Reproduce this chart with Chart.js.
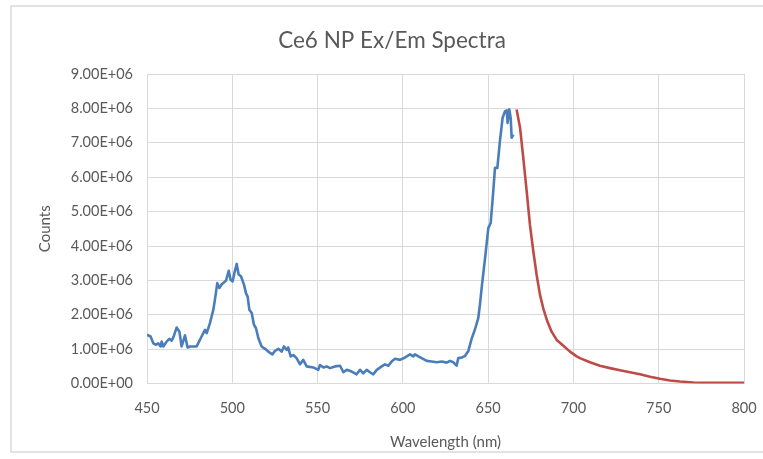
<!DOCTYPE html>
<html>
<head>
<meta charset="utf-8">
<script src="https://cdn.jsdelivr.net/npm/chart.js@4.4.1/dist/chart.umd.min.js"></script>
<style>
  html, body { margin: 0; padding: 0; background: #fff; }
  #wrap { position: relative; width: 763px; height: 459px; }
</style>
</head>
<body>
<div id="wrap"><canvas id="spectra" width="763" height="459"></canvas></div>
<script>
/* Ce6 NP Ex/Em Spectra — excitation (blue) and emission (red) */

// excitation scan: wavelength (nm) / counts (millions)
const excWl = [
  450, 452.1, 453.7, 455.3, 456.6, 458, 458.6, 459.6, 461.5, 463.1, 464.5, 465.5, 467.4, 469, 470.3,
  472.3, 473.8, 475.2, 479.1, 482, 484, 485, 486.9, 488.9, 490, 491.2, 492.4, 493.8, 496.3, 497.9,
  499, 500.2, 501.2, 502.6, 503.7, 505.1, 506.9, 508, 509, 510, 511.4, 512.7, 513.9, 515.3, 517.2,
  519.2, 521.1, 523.5, 525, 527, 528.9, 530.3, 531.9, 532.8, 534.2, 535.8, 537.7, 539.7, 541.6,
  543.6, 547.5, 550.4, 551.4, 553.4, 555.3, 557.3, 560.2, 563.2, 565.1, 567.1, 570, 572.9, 574.9,
  576.8, 578.8, 580.7, 582.7, 584.7, 587.6, 589.5, 591.5, 593.4, 595.4, 598.3, 601.3, 604.2, 606.1,
  607.1, 609.1, 611, 614, 616.9, 619.8, 622.8, 625.7, 627.6, 629.6, 631.5, 632.5, 634.5, 636.4,
  638.4, 640.3, 642.3, 644.2, 645.2, 646.2, 648.2, 650.1, 651.5, 653, 654, 655.4, 656.9, 658.5,
  659.9, 660.9, 661.4, 662.4, 663.2, 663.8, 664.8
];
const excCountsM = [
  1.42, 1.37, 1.17, 1.13, 1.17, 1.08, 1.22, 1.08, 1.22, 1.30, 1.25, 1.35, 1.63, 1.51, 1.08,
  1.40, 1.05, 1.08, 1.08, 1.37, 1.56, 1.47, 1.76, 2.15, 2.50, 2.92, 2.78, 2.89, 2.99, 3.28,
  3.02, 2.97, 3.21, 3.48, 3.17, 3.12, 2.87, 2.63, 2.53, 2.15, 2.05, 1.71, 1.61, 1.32, 1.08,
  1.01, 0.93, 0.85, 0.95, 1.01, 0.93, 1.08, 0.98, 1.05, 0.79, 0.83, 0.74, 0.56, 0.69,
  0.50, 0.47, 0.40, 0.54, 0.47, 0.50, 0.45, 0.50, 0.52, 0.33, 0.40, 0.35, 0.27, 0.40,
  0.30, 0.40, 0.33, 0.27, 0.40, 0.50, 0.56, 0.52, 0.64, 0.72, 0.69, 0.76, 0.85, 0.79,
  0.85, 0.79, 0.74, 0.66, 0.64, 0.62, 0.64, 0.61, 0.66, 0.62, 0.52, 0.74, 0.76, 0.80,
  0.95, 1.30, 1.58, 1.90, 2.30, 2.78, 3.65, 4.52, 4.67, 5.59, 6.27, 6.27, 7.05, 7.73,
  7.92, 7.94, 7.58, 7.97, 7.73, 7.15, 7.24
];

// emission scan
const emWl = [
  666.7, 668.7, 670.6, 672.6, 674.5, 676.5, 678.4, 680.4, 682.3, 684.7, 687.2, 690.2, 694.1, 698,
  701.9, 703.8, 709.7, 715.5, 721.4, 727.3, 733.1, 739, 744.9, 750.7, 756.6, 762.4, 770.3, 780, 800
];
const emCountsM = [
  7.97, 7.44, 6.56, 5.59, 4.62, 3.84, 3.17, 2.58, 2.19, 1.81, 1.51, 1.27, 1.10, 0.93,
  0.79, 0.74, 0.62, 0.52, 0.45, 0.39, 0.33, 0.27, 0.20, 0.14, 0.09, 0.06, 0.03, 0.02, 0.02
];

const xTicks = [450, 500, 550, 600, 650, 700, 750, 800];
const yMaxCounts = 9e6;

const TEXT = '#595959';
const GRID = '#d9d9d9';
const FONT = 'Lato, "Open Sans", sans-serif';

function toPoints(xs, ysM) {
  return xs.map((x, i) => ({ x, y: ysM[i] * 1e6 }));
}

// 9000000 -> "9.00E+06"
function sci(v) {
  if (v === 0) return '0.00E+00';
  const e = Math.floor(Math.log10(Math.abs(v)) + 1e-9);
  const m = (v / Math.pow(10, e)).toFixed(2);
  return m + 'E' + (e < 0 ? '-' : '+') + String(Math.abs(e)).padStart(2, '0');
}

// outer chart frame like the spreadsheet export
const frame = {
  id: 'frame',
  beforeDraw(chart) {
    const c = chart.ctx;
    c.save();
    c.fillStyle = '#fff';
    c.fillRect(0, 0, chart.width, chart.height);
    c.strokeStyle = GRID;
    c.lineWidth = 1.5;
    c.strokeRect(11, 6, chart.width + 20, 446);
    c.restore();
  }
};

new Chart(document.getElementById('spectra'), {
  type: 'scatter',
  data: {
    datasets: [
      {
        label: 'Excitation', data: toPoints(excWl, excCountsM),
        showLine: true, borderColor: '#4a7ebb', borderWidth: 2.6,
        pointRadius: 0, tension: 0, borderJoinStyle: 'round'
      },
      {
        label: 'Emission', data: toPoints(emWl, emCountsM),
        showLine: true, borderColor: '#be4b48', borderWidth: 2.6,
        pointRadius: 0, tension: 0, borderJoinStyle: 'round'
      }
    ]
  },
  options: {
    responsive: false, animation: false,
    layout: { padding: { left: 40, right: 19, top: 0, bottom: 8 } },
    plugins: {
      legend: { display: false },
      tooltip: { enabled: false },
      title: {
        display: true, text: 'Ce6 NP Ex/Em Spectra', color: TEXT,
        font: { family: FONT, size: 22.5, weight: 'normal' },
        padding: { top: 27, bottom: 20 }
      }
    },
    scales: {
      x: {
        type: 'linear', min: 450, max: 800,
        afterBuildTicks: s => { s.ticks = xTicks.map(v => ({ value: v })); },
        afterFit: s => { s.paddingRight = 0; s.paddingLeft = 0; },
        ticks: { color: TEXT, font: { family: FONT, size: 14.5 }, padding: 16, maxRotation: 0 },
        grid: { color: GRID, lineWidth: 1, drawTicks: false },
        border: { color: GRID },
        title: {
          display: true, text: 'Wavelength (nm)', color: TEXT,
          font: { family: FONT, size: 15 }, padding: { top: 0, bottom: 0 }
        }
      },
      y: {
        min: 0, max: yMaxCounts,
        ticks: { stepSize: 1e6, color: TEXT, font: { family: FONT, size: 14.5 }, padding: 14, callback: v => sci(v) },
        grid: { color: GRID, lineWidth: 1, drawTicks: false },
        border: { color: GRID },
        afterFit: s => { s.width = 107; },
        title: {
          display: true, text: 'Counts', color: TEXT,
          font: { family: FONT, size: 15 }, padding: { top: -4, bottom: 0 }
        }
      }
    }
  },
  plugins: [frame]
});
</script>
</body>
</html>
